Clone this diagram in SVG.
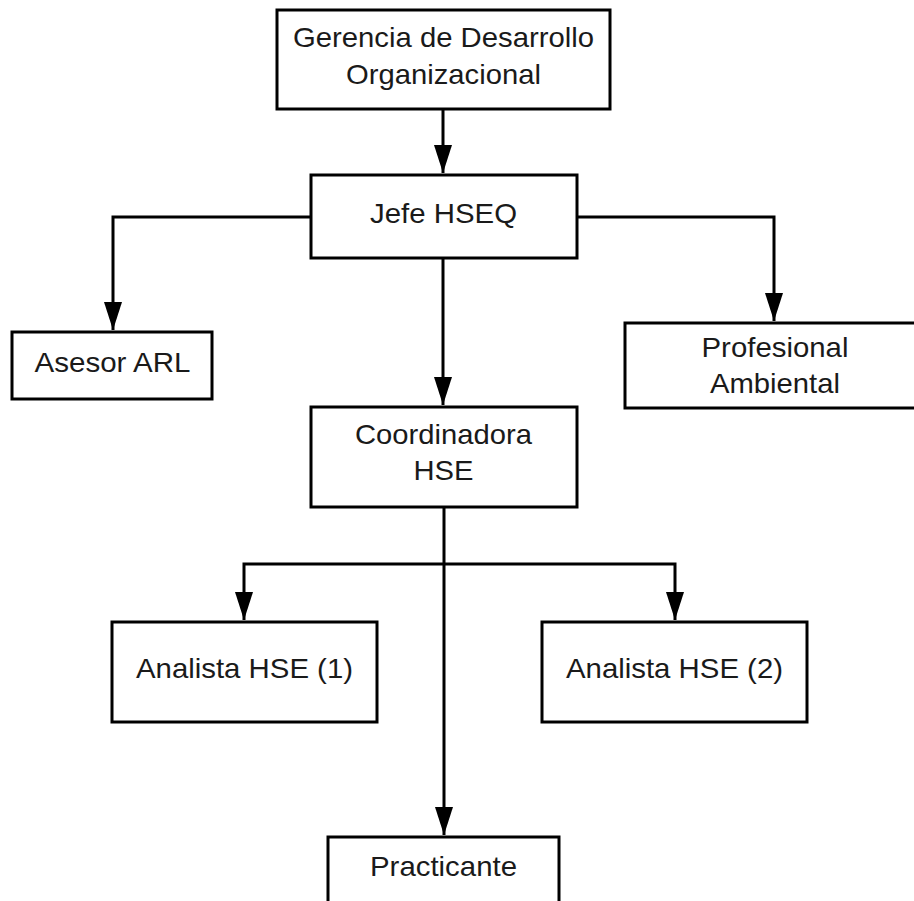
<svg xmlns="http://www.w3.org/2000/svg" width="914" height="901" viewBox="0 0 914 901">
<style>
  .box { fill: #ffffff; stroke: #000000; stroke-width: 3; }
  .lbl { font-family: "Liberation Sans", Arial, sans-serif; font-size: 28px; fill: #1a1a1a; text-anchor: middle; }
  .conn { fill: none; stroke: #000000; stroke-width: 3; marker-end: url(#arrow); }
</style>
<defs>
  <marker id="arrow" markerUnits="userSpaceOnUse" viewBox="0 0 28 18" markerWidth="28" markerHeight="18" refX="28" refY="9" orient="auto">
    <path d="M0,0 L28,9 L0,18 z" fill="#000000"/>
  </marker>
</defs>
<rect width="914" height="901" fill="#ffffff"/>
<g id="connectors">
  <path class="conn" d="M443,109 V173"/>
  <path class="conn" d="M311,217 H113 V330"/>
  <path class="conn" d="M577,217 H774 V321"/>
  <path class="conn" d="M443,258 V405"/>
  <path class="conn" d="M444,507 V835"/>
  <path class="conn" d="M444,564 H244 V620"/>
  <path class="conn" d="M444,564 H675 V620"/>
</g>
<g id="gerencia">
  <rect class="box" x="277" y="10" width="333" height="99"/>
  <text class="lbl" x="443.5" y="47" textLength="301" lengthAdjust="spacingAndGlyphs">Gerencia de Desarrollo</text>
  <text class="lbl" x="443.5" y="84" textLength="195" lengthAdjust="spacingAndGlyphs">Organizacional</text>
</g>
<g id="jefe">
  <rect class="box" x="311" y="175" width="266" height="83"/>
  <text class="lbl" x="443.5" y="223" textLength="147" lengthAdjust="spacingAndGlyphs">Jefe HSEQ</text>
</g>
<g id="asesor">
  <rect class="box" x="12" y="332" width="200" height="67"/>
  <text class="lbl" x="112.5" y="372" textLength="156" lengthAdjust="spacingAndGlyphs">Asesor ARL</text>
</g>
<g id="profesional">
  <rect class="box" x="625" y="323" width="300" height="85"/>
  <text class="lbl" x="775" y="357" textLength="147" lengthAdjust="spacingAndGlyphs">Profesional</text>
  <text class="lbl" x="775" y="393" textLength="130" lengthAdjust="spacingAndGlyphs">Ambiental</text>
</g>
<g id="coordinadora">
  <rect class="box" x="311" y="407" width="266" height="100"/>
  <text class="lbl" x="443.5" y="444" textLength="177" lengthAdjust="spacingAndGlyphs">Coordinadora</text>
  <text class="lbl" x="443.5" y="480" textLength="60" lengthAdjust="spacingAndGlyphs">HSE</text>
</g>
<g id="analista1">
  <rect class="box" x="112" y="622" width="265" height="100"/>
  <text class="lbl" x="244.5" y="678" textLength="217" lengthAdjust="spacingAndGlyphs">Analista HSE (1)</text>
</g>
<g id="analista2">
  <rect class="box" x="542" y="622" width="265" height="100"/>
  <text class="lbl" x="674.5" y="678" textLength="217" lengthAdjust="spacingAndGlyphs">Analista HSE (2)</text>
</g>
<g id="practicante">
  <rect class="box" x="328" y="837" width="231" height="100"/>
  <text class="lbl" x="443.5" y="876" textLength="147" lengthAdjust="spacingAndGlyphs">Practicante</text>
</g>
</svg>
